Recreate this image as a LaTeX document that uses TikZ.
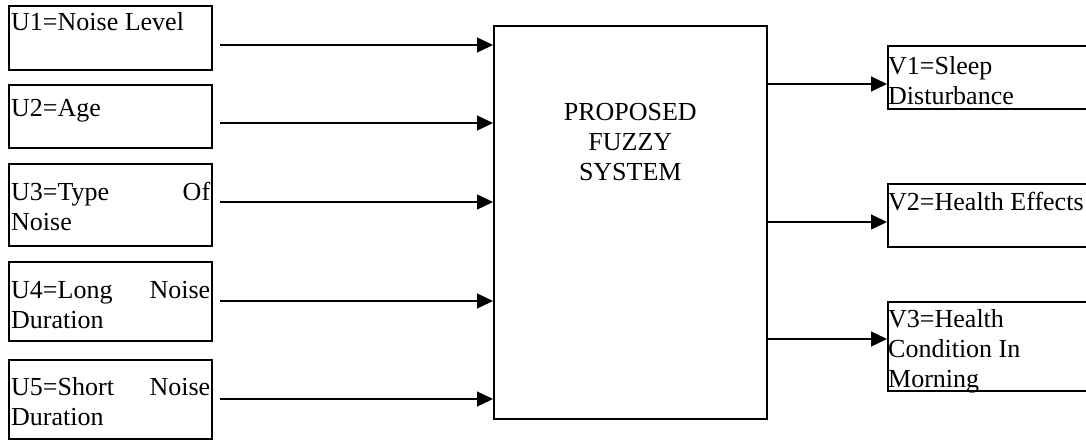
\documentclass[tikz,border=0pt]{standalone}
\usepackage{fontspec}
\setmainfont{Liberation Serif}
\usetikzlibrary{arrows.meta, positioning}

\tikzset{
    inbox/.style={draw, line width=1.6pt, minimum width=203pt, anchor=north west, inner sep=0pt},
    lab/.style={anchor=north west, inner xsep=3pt, inner ysep=0pt, align=left,
                font=\fontsize{26}{30}\selectfont},
    arr/.style={line width=1.3pt, -{Triangle[length=16pt, width=15pt]}}
}

\begin{document}
\begin{tikzpicture}[x=1pt, y=-1pt]
            \useasboundingbox (0,0) rectangle (1086,439);
            \clip (0,0) rectangle (1086,439);

            % Input variables
            \node[inbox, minimum height=64pt, label={[lab, yshift=-7pt]north west:U1=Noise Level}] (u1) at (8,5) {};
            \node[inbox, minimum height=63pt, label={[lab, yshift=-15pt]north west:U2=Age}] (u2) at (8,84) {};
            \node[inbox, minimum height=82pt, label={[lab, yshift=-19pt, text width=199pt]north west:U3=Type\hfill Of\\Noise}] (u3) at (8,163) {};
            \node[inbox, minimum height=79pt, label={[lab, yshift=-20pt, text width=199pt]north west:U4=Long\hfill Noise\\Duration}] (u4) at (8,261) {};
            \node[inbox, minimum height=79pt, label={[lab, yshift=-18pt, text width=199pt]north west:U5=Short\hfill Noise\\Duration}] (u5) at (8,359) {};

            % Fuzzy system
            \node[inbox, minimum width=273pt, minimum height=393pt] (sys) at (493,25) {};
            \node[lab, anchor=north, align=center, below=78pt of sys.north] (systxt) {PROPOSED\\FUZZY\\SYSTEM};

            % Output variables
            \node[inbox, minimum height=63pt, label={[lab, xshift=-2pt, yshift=-11pt]north west:V1=Sleep\\Disturbance}] (v1) at (887,45) {};
            \node[inbox, minimum height=63pt, label={[lab, xshift=-2pt, yshift=-9pt]north west:V2=Health Effects}] (v2) at (887,183) {};
            \node[inbox, minimum height=89pt, label={[lab, xshift=-2pt, yshift=-8pt]north west:V3=Health\\Condition In\\Morning}] (v3) at (887,301) {};

            % Input arrows
            \coordinate (s1) at (220,45);
            \coordinate (s2) at (220,123);
            \coordinate (s3) at (220,202);
            \coordinate (s4) at (220,301);
            \coordinate (s5) at (220,399);
            \foreach \i in {1,...,5}
                \draw[arr] (s\i) -- (s\i -| sys.west);

            % Output arrows
            \coordinate (t1) at (887,84);
            \coordinate (t2) at (887,222);
            \coordinate (t3) at (887,339);
            \foreach \i in {1,2,3}
                \draw[arr] (sys.east |- t\i) -- (t\i);
\end{tikzpicture}
\end{document}
